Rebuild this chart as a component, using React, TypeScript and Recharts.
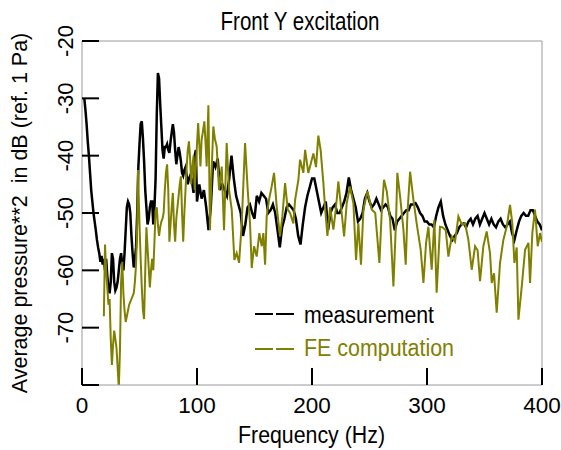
import React from 'react';
import { LineChart, Line, XAxis, YAxis, Customized } from 'recharts';

// ---- data ----
const measFreq = [
  2, 3, 4, 5, 6, 7, 8, 9, 10, 11,
  12, 13, 14, 15, 16, 17, 18, 19, 20, 21,
  22, 23, 24, 25, 26, 27, 28, 29, 30, 31,
  32, 33, 34, 35, 36, 37, 38, 39, 40, 41,
  42, 43, 44, 45, 46, 47, 48, 49, 50, 51,
  52, 53, 54, 55, 56, 57, 58, 59, 60, 61,
  62, 63, 64, 65, 66, 67, 68, 69, 70, 71,
  72, 73, 74, 75, 76, 77, 78, 79, 80, 81,
  82, 83, 84, 85, 86, 87, 88, 89, 90, 91,
  92, 93, 94, 95, 96, 97, 98, 99, 100,
  102, 104, 106, 108, 110, 112, 114, 116, 118, 120,
  122, 124, 126, 128, 130, 132, 134, 136, 138, 140,
  142, 144, 146, 148, 150, 152, 154, 156, 158, 160,
  162, 164, 166, 168, 170, 172, 174, 176, 178, 180,
  182, 184, 186, 188, 190, 192, 194, 196, 198, 200,
  202, 204, 206, 208, 210, 212, 214, 216, 218, 220,
  222, 224, 226, 228, 230, 232, 234, 236, 238, 240,
  242, 244, 246, 248, 250, 252, 254, 256, 258, 260,
  262, 264, 266, 268, 270, 272, 274, 276, 278, 280,
  282, 284, 286, 288, 290, 292, 294, 296, 298, 300,
  302, 304, 306, 308, 310, 312, 314, 316, 318, 320,
  322, 324, 326, 328, 330, 332, 334, 336, 338, 340,
  342, 344, 346, 348, 350, 352, 354, 356, 358, 360,
  362, 364, 366, 368, 370, 372, 374, 376, 378, 380,
  382, 384, 386, 388, 390, 392, 394, 396, 398, 400,
];
const measDb = [
  -30, -32, -34.5, -37.5, -40, -43, -46, -48, -50, -51.5,
  -53, -54.7, -56, -57, -58.5, -57.5, -59, -58, -60, -58,
  -61, -63, -64, -62, -57, -58, -62, -63.5, -63, -62,
  -60, -58, -57, -59, -60, -57, -53, -49, -48, -48.5,
  -50, -54, -57, -59.5, -58, -56, -50, -42, -38, -34.5,
  -34, -37, -41, -46, -49, -52, -51, -49, -48, -48,
  -52, -49, -44, -33, -25.6, -26.5, -31, -35, -39, -40.5,
  -38.5, -38.5, -38, -39, -39.5, -37.5, -36, -34.5, -36, -39,
  -41.5, -40, -38.5, -39.5, -41, -43, -43.5, -42.5, -42, -43.5,
  -45, -44, -43.5, -44, -45, -46.5, -40, -39, -48,
  -45, -47.5, -46, -49, -53, -49, -41, -42, -40.5, -46,
  -45, -46, -47, -44, -40, -44, -47, -48.5, -50, -54,
  -52, -49, -48.5, -50, -51, -47, -48, -46.5, -47, -47.5,
  -50, -49.5, -48.5, -50, -53, -56, -52.5, -51, -49, -48.5,
  -49, -49.5, -51, -54, -55.5, -52, -49, -47, -45.5, -44,
  -44, -46, -48, -50, -49, -48, -53, -50, -49, -48.5,
  -50, -50, -49, -48, -46.5, -43.8, -46, -47.5, -49, -51.5,
  -51, -50, -47.5, -46.5, -48, -49, -48.5, -47.5, -48.5, -49.5,
  -49, -48.5, -49, -50.5, -51, -53, -51.5, -51, -50.5, -50,
  -49.5, -49.5, -48.5, -48.5, -48.3, -49, -50, -50.5, -51.5, -51.5,
  -52, -52, -52.5, -50.5, -49, -48, -50.5, -52, -53, -54,
  -54.7, -54, -53.5, -52.5, -52, -51.8, -52.5, -51.5, -51, -52,
  -51, -50.5, -52, -51, -50, -51, -52, -51, -52, -52.5,
  -51.5, -51, -52, -52.5, -52, -51.5, -53.5, -54.7, -53, -51.5,
  -50.5, -50, -50.5, -50.5, -49.5, -49.5, -50.5, -51.5, -52, -53,
];

const feFreq = [
  19, 20, 21, 22, 23, 24, 25, 26, 27, 28,
  29, 30, 31, 32, 33, 34, 35, 36, 37, 38,
  39, 40, 41, 42, 43, 44, 45, 46, 47, 48,
  48.7, 50, 51, 52, 53, 54, 55, 56, 57, 58,
  59, 60, 61, 62, 63, 64, 65, 66, 67, 68,
  69, 70, 71, 72, 73, 74, 75, 76, 77, 78,
  79, 80, 81, 82, 83, 84, 85, 86, 87, 88,
  89, 90, 91, 92, 93, 94, 95, 96, 97, 98,
  99, 100, 101, 102, 103, 104, 105, 106.4, 107.5, 108.4,
  109.9, 111.3, 112.5, 114.2, 115.5, 117.1, 119.2, 121.5, 123.5, 125.8,
  127.9, 130.2, 132.5, 134.5, 136.6, 138.9, 141.8, 144.1, 146.1, 147.6,
  149.6, 151.9, 154.2, 156.3, 157.7, 159.2, 160.6, 162.6, 164.9, 167,
  169.3, 172.2, 174.2, 176.6, 178.9, 180.9, 183.8, 185.3, 188.2, 189.6,
  192.5, 194, 196.8, 198.3, 201.2, 203.5, 205.5, 207.5, 209.9, 211.3,
  213.4, 215.7, 218.6, 220.9, 222.9, 225.8, 227.9, 230.2, 233.1, 236,
  238.3, 240.3, 242.6, 244.7, 248.2, 251.9, 255, 258.6, 260.6, 262.6,
  265, 267.9, 270.8, 273.1, 274.2, 276.6, 279.5, 281.5, 283, 285.3,
  288.2, 291, 294.5, 296.9, 299.2, 301.2, 304.1, 306.4, 308.4, 311.3,
  313.5, 316.3, 318.6, 321.5, 324.4, 327.3, 330.2, 333.1, 336, 338.9,
  341.8, 344, 346.1, 349, 351.9, 354.8, 356.3, 358.3, 360.6, 363.5,
  366.4, 369.3, 372.2, 374.2, 376, 378, 379.5, 382.4, 385.3, 388.2,
  389.6, 391.6, 393.9, 396.3, 398.3, 400,
];
const feDb = [
  -68, -55.5, -60, -63, -66, -65, -72, -76.5, -73, -70.5,
  -72, -73.5, -77, -80.5, -74, -62, -58.5, -64, -67, -69,
  -68, -67, -66, -65.5, -65, -64.5, -64, -62, -59, -52,
  -42.5, -52, -58, -63, -67, -68.5, -60, -52.5, -56, -59.5,
  -63, -60, -58, -60, -55, -49.5, -49, -52, -54, -52.5,
  -51.5, -51, -50, -46, -43, -41.5, -46, -55, -52, -49,
  -46.5, -52, -55, -51, -49, -47, -45, -43.6, -50, -55,
  -50, -46, -42, -39, -37.5, -40.5, -45, -42, -40, -46,
  -42, -38, -34.3, -38, -41.9, -37.2, -36, -34, -38, -41.9,
  -31.2, -53, -44, -34.9, -37, -38.4, -46, -41.9, -53, -37.8,
  -46, -49.4, -58.2, -57, -58.7, -51.8, -37.8, -46, -51.8, -59.6,
  -55.8, -57.6, -53.5, -55.8, -53.5, -59, -50.6, -47.7, -45.4, -43,
  -48.9, -54.1, -50.6, -44.8, -49.4, -50, -51.8, -47.7, -44.2, -40.7,
  -43, -39, -43, -41.9, -39.6, -42, -36.5, -39, -44.8, -48.9,
  -54, -49, -52.9, -49, -44.5, -50, -54.1, -48.3, -45.4, -48.3,
  -58.2, -51.8, -59, -49.4, -46.2, -49.4, -50, -58.7, -50, -44.2,
  -46.2, -51.2, -62.8, -51.2, -43, -47.1, -52.9, -59, -50, -42.8,
  -47.7, -51.8, -56.4, -62.2, -55.2, -52.4, -59.9, -51.2, -63.9, -52.4,
  -52.5, -53, -57.6, -54.1, -55, -50.6, -52, -51.8, -54.7, -59.9,
  -55.8, -56.5, -61.9, -55.8, -53.2, -57, -62.2, -60.5, -67.4, -58.7,
  -54.7, -52.4, -48.6, -51.8, -58.7, -56, -68.6, -62.8, -56.4, -55.2,
  -62.2, -53.5, -49.4, -55.8, -53.5, -55,
];

const xTicks = [0, 100, 200, 300, 400];
const yTicks = [-80, -70, -60, -50, -40, -30, -20];
const yTickLabels = ['', '-70', '-60', '-50', '-40', '-30', '-20'];

const titleText = 'Front Y excitation';
const xLabelText = 'Frequency (Hz)';
const yLabelText = 'Average pressure**2  in dB (ref. 1 Pa)';
const seriesNames = ['measurement', 'FE computation'];
const seriesColors = ['#000000', '#808000'];

const measurement = measFreq.map((f, i) => ({ f, v: measDb[i] }));
const feComputation = feFreq.map((f, i) => ({ f, v: feDb[i] }));

// ---- layout ----
const W = 561;
const H = 450;
const PL = 82;
const PR = 542;
const PT = 41;
const PB = 385;
const FONT = '"Liberation Sans", Arial, Helvetica, sans-serif';
const TICK_LEN = 17;
const FRAME = '#9a9a9a';

const YTick = (props: any) => {
  const { y, payload } = props;
  const idx = yTicks.indexOf(payload.value);
  const label = idx >= 0 ? yTickLabels[idx] : '';
  return (
    <g>
      <line x1={PL} x2={PL + TICK_LEN} y1={y} y2={y} stroke="#000" strokeWidth={2} />
      {label ? (
        <text
          x={73}
          y={y}
          transform={`rotate(-90 73 ${y})`}
          textAnchor="middle"
          fontFamily={FONT}
          fontSize={22}
          fill="#000"
        >
          {label}
        </text>
      ) : null}
    </g>
  );
};

const XTick = (props: any) => {
  const { x, payload } = props;
  const s = String(payload.value);
  return (
    <g>
      <line x1={x} x2={x} y1={PB} y2={PB - TICK_LEN} stroke="#000" strokeWidth={2} />
      <text x={x} y={413} textAnchor="middle" fontFamily={FONT} fontSize={22.5} fill="#000">
        {s}
      </text>
    </g>
  );
};

const Overlay = () => (
  <g>
    <line x1={PL} x2={PR} y1={PT} y2={PT} stroke={FRAME} strokeWidth={1} />
    <line x1={PR} x2={PR} y1={PT} y2={PB} stroke={FRAME} strokeWidth={1} />
    <line x1={PL} x2={PL + TICK_LEN} y1={PT} y2={PT} stroke="#000" strokeWidth={2} />
    <line x1={PR} x2={PR} y1={PB} y2={PB - TICK_LEN} stroke="#000" strokeWidth={2} />
    <text
      x={300}
      y={30}
      textAnchor="middle"
      fontFamily={FONT}
      fontSize={26}
      textLength={159}
      lengthAdjust="spacingAndGlyphs"
      fill="#000"
    >
      {titleText}
    </text>
    <text
      x={311.5}
      y={443}
      textAnchor="middle"
      fontFamily={FONT}
      fontSize={24.5}
      textLength={147}
      lengthAdjust="spacingAndGlyphs"
      fill="#000"
    >
      {xLabelText}
    </text>
    <text
      x={27}
      y={(PT + PB) / 2}
      transform={`rotate(-90 27 ${(PT + PB) / 2})`}
      textAnchor="middle"
      fontFamily={FONT}
      fontSize={21.5}
      fill="#000"
      style={{ whiteSpace: 'pre' }}
    >
      {yLabelText}
    </text>
    {/* legend */}
    <line x1={255} x2={273} y1={314} y2={314} stroke={seriesColors[0]} strokeWidth={2} />
    <line x1={276} x2={294} y1={314} y2={314} stroke={seriesColors[0]} strokeWidth={2} />
    <text
      x={304}
      y={323}
      fontFamily={FONT}
      fontSize={23}
      textLength={130}
      lengthAdjust="spacingAndGlyphs"
      fill={seriesColors[0]}
    >
      {seriesNames[0]}
    </text>
    <line x1={255} x2={273} y1={349} y2={349} stroke={seriesColors[1]} strokeWidth={2} />
    <line x1={276} x2={294} y1={349} y2={349} stroke={seriesColors[1]} strokeWidth={2} />
    <text
      x={304}
      y={356}
      fontFamily={FONT}
      fontSize={23}
      textLength={150}
      lengthAdjust="spacingAndGlyphs"
      fill={seriesColors[1]}
    >
      {seriesNames[1]}
    </text>
  </g>
);

export default function App() {
  return (
    <div style={{ position: 'absolute', left: 0, top: 0, background: '#fff' }}>
      <LineChart
        width={W}
        height={H}
        margin={{ top: PT, right: W - PR, bottom: 0, left: 0 }}
      >
        <XAxis
          dataKey="f"
          type="number"
          domain={[0, 400]}
          ticks={xTicks}
          interval={0}
          allowDataOverflow
          axisLine={{ stroke: FRAME, strokeWidth: 1 }}
          tickLine={false}
          tick={<XTick />}
          height={H - PB}
        />
        <YAxis
          dataKey="v"
          type="number"
          domain={[-80, -20]}
          ticks={yTicks}
          interval={0}
          allowDataOverflow
          axisLine={{ stroke: FRAME, strokeWidth: 1 }}
          tickLine={false}
          tick={<YTick />}
          width={PL}
        />
        <Line
          data={measurement}
          dataKey="v"
          type="linear"
          stroke={seriesColors[0]}
          strokeWidth={2.5}
          dot={false}
          isAnimationActive={false}
        />
        <Line
          data={feComputation}
          dataKey="v"
          type="linear"
          stroke={seriesColors[1]}
          strokeWidth={2}
          dot={false}
          isAnimationActive={false}
        />
        <Customized component={Overlay} />
      </LineChart>
    </div>
  );
}
